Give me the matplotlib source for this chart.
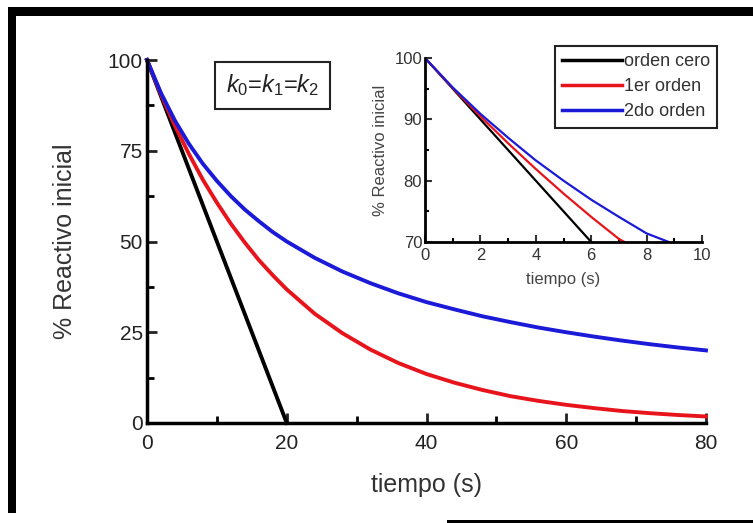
import matplotlib
matplotlib.use('Agg')
import matplotlib.pyplot as plt
from matplotlib.patches import Rectangle
from matplotlib.ticker import MultipleLocator

plt.rcParams['font.family'] = ['Liberation Sans', 'DejaVu Sans']
plt.rcParams['mathtext.fontset'] = 'custom'
plt.rcParams['mathtext.rm'] = 'Liberation Sans'
plt.rcParams['mathtext.it'] = 'Liberation Sans:italic'

# main plot, values (% of initial reactant)
t_cero = [0, 20]
cero = [100, 0]

t_curva = [0, 2, 4, 6, 8, 10, 12, 14, 16, 18, 20, 24, 28, 32, 36, 40,
           44, 48, 52, 56, 60, 64, 68, 72, 76, 80]
primer = [100, 90.5, 81.9, 74.1, 67.0, 60.7, 54.9, 49.7, 44.9, 40.7, 36.8,
          30.1, 24.7, 20.2, 16.5, 13.5, 11.1, 9.1, 7.4, 6.1, 5.0, 4.1,
          3.3, 2.7, 2.2, 1.8]
segundo = [100, 90.9, 83.3, 76.9, 71.4, 66.7, 62.5, 58.8, 55.6, 52.6, 50.0,
           45.5, 41.7, 38.5, 35.7, 33.3, 31.3, 29.4, 27.8, 26.3, 25.0, 23.8,
           22.7, 21.7, 20.8, 20.0]

# inset (first seconds)
t_in_cero = [0, 6]
in_cero = [100, 70]
t_in_primer = [0, 1, 2, 3, 4, 5, 6, 7, 7.2]
in_primer = [100, 95.1, 90.5, 86.1, 81.9, 77.9, 74.1, 70.5, 70]
t_in_segundo = [0, 1, 2, 3, 4, 5, 6, 7, 8, 8.8]
in_segundo = [100, 95.2, 90.9, 87.0, 83.3, 80.0, 76.9, 74.1, 71.4, 70]

etiquetas = ['orden cero', '1er orden', '2do orden']
colores = ['black', '#e8141c', '#1a1ad8']

W, H = 753, 523
fig = plt.figure(figsize=(W/100, H/100), dpi=100)

def px(x0, y0, x1, y1):
    # pixel box (top-left origin) -> figure fraction rect
    return [x0/W, 1 - y1/H, (x1 - x0)/W, (y1 - y0)/H]

# black frame pieces around the picture
for x0, y0, x1, y1 in [(8, 7, 753, 16), (8, 7, 16, 513), (447, 520, 753, 523)]:
    r = px(x0, y0, x1, y1)
    fig.add_artist(Rectangle((r[0], r[1]), r[2], r[3], transform=fig.transFigure,
                             facecolor='black', edgecolor='none'))

ax = fig.add_axes(px(147, 60, 706, 423))
ax.plot(t_cero, cero, color=colores[0], lw=2.8, clip_on=False)
ax.plot(t_curva, primer, color=colores[1], lw=2.8, clip_on=False)
ax.plot(t_curva, segundo, color=colores[2], lw=2.8, clip_on=False)
ax.set_xlim(0, 80)
ax.set_ylim(0, 100)
ax.set_xticks([0, 20, 40, 60, 80])
ax.set_yticks([0, 25, 50, 75, 100])
ax.xaxis.set_minor_locator(MultipleLocator(10))
ax.yaxis.set_minor_locator(MultipleLocator(12.5))
for s in ['top', 'right']:
    ax.spines[s].set_visible(False)
for s in ['left', 'bottom']:
    ax.spines[s].set_linewidth(2.5)
ax.tick_params(which='major', direction='in', length=7, width=2, labelsize=15, pad=3, colors='#222222')
ax.tick_params(axis='x', which='major', pad=8)
ax.tick_params(which='minor', direction='in', length=5, width=2)
ax.set_xlabel('tiempo (s)', fontsize=18, color='#333333', labelpad=14)
ax.set_ylabel('% Reactivo inicial', fontsize=18, color='#333333', labelpad=22)
ax.text(0.2245, 0.93, r'$k_0$=$k_1$=$k_2$', transform=ax.transAxes, fontsize=17,
        ha='center', va='center', color='#222222',
        bbox=dict(boxstyle='square,pad=0.45', facecolor='white', edgecolor='#222222', lw=1.5))

# inset
ax_in = fig.add_axes(px(425, 58, 702, 242))
ax_in.plot(t_in_cero, in_cero, color=colores[0], lw=1.6, label=etiquetas[0])
ax_in.plot(t_in_primer, in_primer, color=colores[1], lw=1.6, label=etiquetas[1])
ax_in.plot(t_in_segundo, in_segundo, color=colores[2], lw=1.6, label=etiquetas[2])
ax_in.set_xlim(0, 10)
ax_in.set_ylim(70, 100)
ax_in.set_xticks([0, 2, 4, 6, 8, 10])
ax_in.set_yticks([70, 80, 90, 100])
ax_in.xaxis.set_minor_locator(MultipleLocator(1))
ax_in.yaxis.set_minor_locator(MultipleLocator(5))
for s in ['top', 'right']:
    ax_in.spines[s].set_visible(False)
for s in ['left', 'bottom']:
    ax_in.spines[s].set_linewidth(2)
ax_in.tick_params(which='major', direction='in', length=5, width=1.5, labelsize=12, pad=2, colors='#333333')
ax_in.tick_params(axis='x', which='major', pad=4)
ax_in.tick_params(which='minor', direction='in', length=3, width=1.5)
ax_in.set_xlabel('tiempo (s)', fontsize=12, color='#444444', labelpad=7)
ax_in.set_ylabel('% Reactivo inicial', fontsize=12, color='#444444', labelpad=5)
leg = ax_in.legend(loc='upper right', bbox_to_anchor=(717/W, 1 - 46/H),
                   bbox_transform=fig.transFigure, borderaxespad=0,
                   fontsize=13, handlelength=3.3, handletextpad=0.1,
                   labelspacing=0.45, fancybox=False, framealpha=1)
leg.get_frame().set_edgecolor('#222222')
leg.get_frame().set_linewidth(1.5)
for txt in leg.get_texts():
    txt.set_color('#333333')
for ln in leg.get_lines():
    ln.set_linewidth(2.5)

plt.savefig('out.png', dpi=100)
